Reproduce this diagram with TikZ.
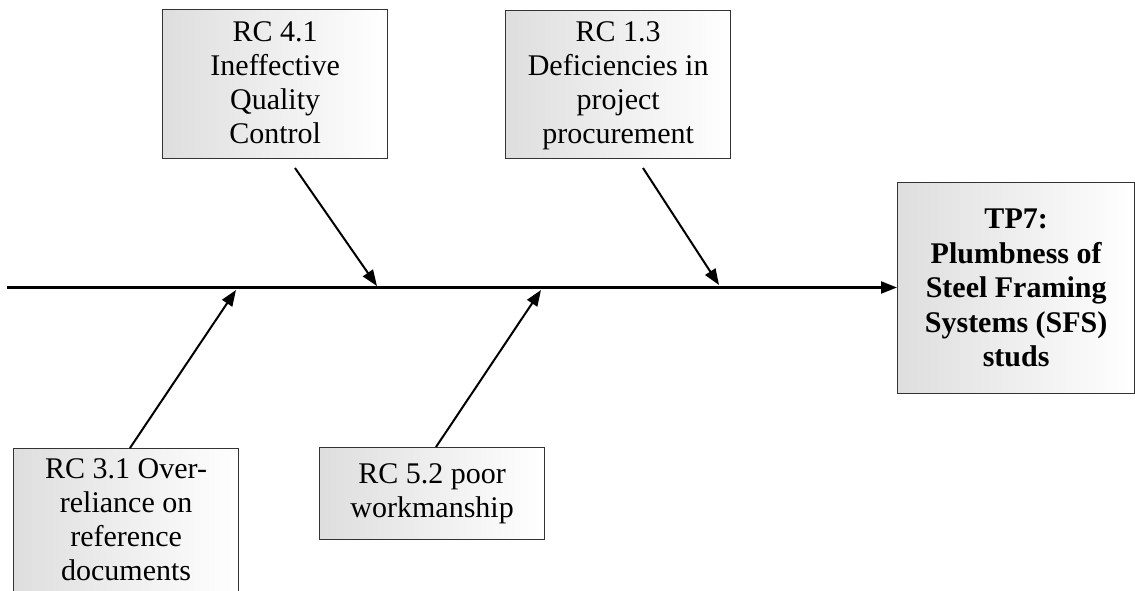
\documentclass[tikz,border=0pt]{standalone}
\usepackage{fontspec}
\setmainfont{Liberation Serif}
\usetikzlibrary{arrows.meta,shadings}
\begin{document}
\begin{tikzpicture}[x=1pt,y=-1pt,
  causebox/.style={draw=black!80,line width=1.3pt,shading=axis,left color=black!13,right color=white,shading angle=90,
    anchor=north west,align=center,inner sep=0pt,font=\fontsize{30}{34}\selectfont},
  effectbox/.style={causebox,font=\fontsize{30}{34.5}\selectfont\bfseries},
  spine/.style={line width=2.3pt,-{Triangle[length=16pt,width=12pt]}},
  bone/.style={line width=2pt,-{Triangle[length=16pt,width=12pt]}}]
\useasboundingbox (0,0) rectangle (1135,590);
\clip (0,0) rectangle (1135,590);
\node[causebox,minimum width=225pt,minimum height=149pt,text depth=4pt] (b41) at (162,9) {RC 4.1\\Ineffective\\Quality\\Control};
\node[causebox,minimum width=225pt,minimum height=148pt,text depth=4pt] (b13) at (505,10) {RC 1.3\\Deficiencies in\\project\\procurement};
\node[effectbox,minimum width=237pt,minimum height=211pt] (tp7) at (897,182) {TP7:\\Plumbness of\\Steel Framing\\Systems (SFS)\\studs};
\node[causebox,minimum width=225pt,minimum height=172pt,text depth=30pt] (b31) at (13,448) {RC 3.1 Over-\\reliance on\\reference\\documents};
\node[causebox,minimum width=225pt,minimum height=92pt] (b52) at (319,447) {RC 5.2 poor\\workmanship};
\coordinate (s0) at (7,287.5);
\coordinate (t41) at (295,168);
\coordinate (h41) at (377,286);
\coordinate (t13) at (643,168);
\coordinate (h13) at (719,285);
\coordinate (t31) at (130,448);
\coordinate (h31) at (236,290);
\coordinate (t52) at (436,447);
\coordinate (h52) at (541,290);
\draw[spine] (s0) -- (tp7.west |- s0);
\draw[bone] (t41) -- (h41);
\draw[bone] (t13) -- (h13);
\draw[bone] (t31) -- (h31);
\draw[bone] (t52) -- (h52);
\end{tikzpicture}
\end{document}
